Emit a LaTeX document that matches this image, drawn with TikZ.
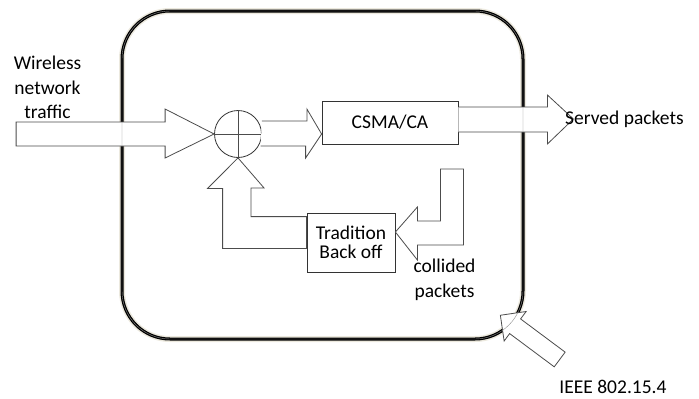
\documentclass[tikz,border=0pt]{standalone}
\usepackage{fontspec}
\setmainfont{Carlito}
\usetikzlibrary{shapes.arrows}
\begin{document}
\begin{tikzpicture}[x=1pt, y=-1pt,
	blk/.style={draw=black!70, line width=0.8pt, fill=white},
	box/.style={draw=black!80, line width=0.8pt, fill=white, inner sep=0pt},
	txt/.style={inner sep=0pt, font=\fontsize{19.5}{24.5}\selectfont}]
	\useasboundingbox (0,0) rectangle (699,399);
	% frame of the device
	\draw[line width=6pt, color={rgb,255:red,236;green,233;blue,222}, rounded corners=48] (122,11) rectangle (523,339);
	\draw[line width=3pt, rounded corners=48] (122,11) rectangle (523,339);
	% blocks
	\node[box, circle, minimum size=47pt] (sum) at (238,134) {};
	\draw[black!70, line width=0.8pt] (sum.north) -- (sum.south) (sum.west) -- (sum.east);
	\node[box, txt, minimum width=136pt, minimum height=43pt] (csma) at (390,122.5) {CSMA/CA};
	\node[box, txt, minimum width=88pt, minimum height=59pt, align=center, font=\fontsize{19.5}{19.5}\selectfont] (back) at (351,242.5) {Tradition\\Back off};
	% block arrows
	\draw[blk] (sum.west) -- ++(-49,-25) -- ++(0,13) -- ++(-149,0) -- ++(0,24) -- ++(149,0) -- ++(0,12) -- cycle;
	\draw[blk] ([yshift=13pt]sum.east) -- ++(45,0) -- ++(0,-12) -- (csma.west |- sum.east) -- ++(-16,24) -- ++(0,-12) -- ++(-45,0);
	\draw[blk] ([yshift=15.5pt]csma.east) -- ++(89,0) -- ++(0,-12) -- ++(26,24) -- ++(-26,25) -- ++(0,-12) -- ++(-89,0);
	\draw[blk] (sum.south) -- ++(26,30) -- ++(-13,0) |- ([yshift=-4pt]back.north west) -- ([yshift=24pt]back.south west) -- ++(-84,0) -- ++(0,-60) -- ++(-15,0) -- cycle;
	\draw[blk] ([yshift=10.5pt]back.east) -- ++(22,-25) -- ++(0,14) -- ++(23,0) -- ++(0,-52) -- ++(23,0) -- ++(0,76) -- ++(-46,0) -- ++(0,15) -- cycle;
	\node[blk, single arrow, rotate=143.3, minimum height=74pt, inner xsep=0pt, inner ysep=8.75pt, single arrow head extend=9.25pt] (ieeearrow) at (533.7,340.1) {};
	\draw[black!45, line width=0.4pt, rounded corners=48] (122,11) rectangle (523,339);
	% labels
	\node[txt, align=center, anchor=north] (traffic) at (47.5,56) {Wireless\\network\\traffic};
	\node[txt, anchor=base west] (served) at (565,124) {Served packets};
	\node[txt, align=center] (collided) at (444.5,280) {collided\\packets};
	\node[txt, anchor=base] (ieee) at (613,393) {IEEE 802.15.4};
\end{tikzpicture}
\end{document}
